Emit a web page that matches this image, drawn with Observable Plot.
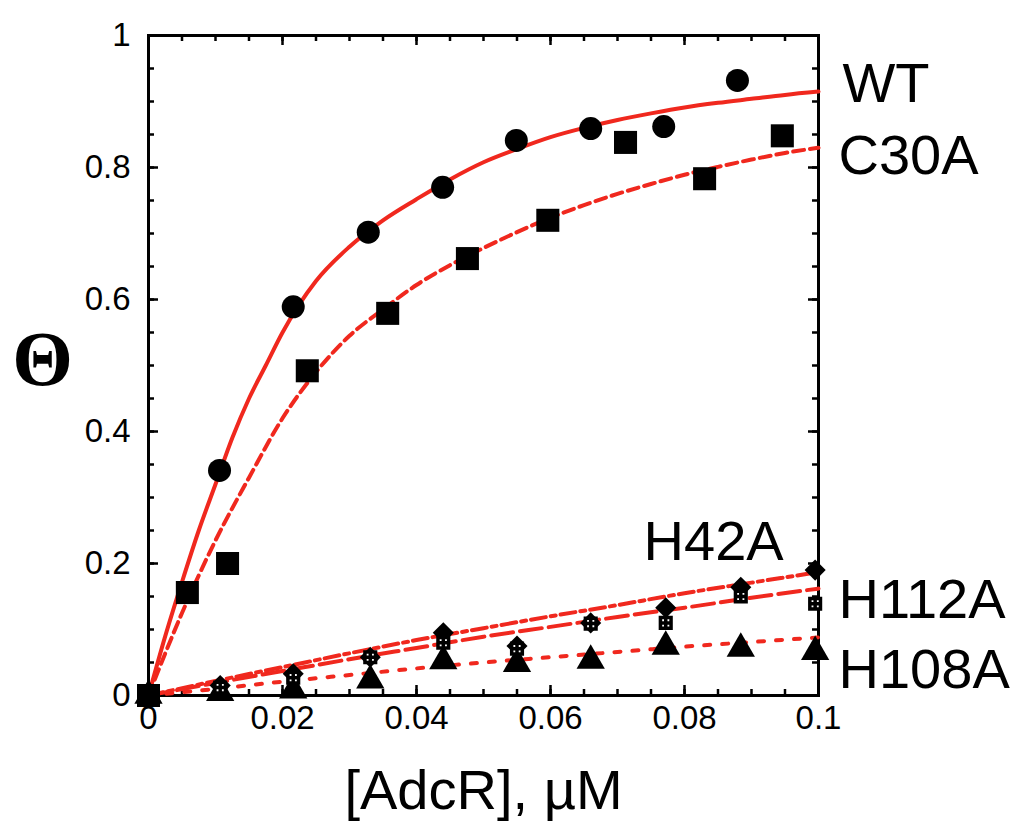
<!DOCTYPE html>
<html>
<head>
<meta charset="utf-8">
<script src="https://cdn.jsdelivr.net/npm/d3@7"></script>
<script src="https://cdn.jsdelivr.net/npm/@observablehq/plot@0.6"></script>
<style>
  html, body { margin: 0; padding: 0; background: #fff; }
  #chart { width: 1020px; height: 840px; }
</style>
</head>
<body>
<div id="chart"></div>
<script>
// Fractional saturation (Θ) of the operator DNA versus [AdcR] for wild type and mutants.

const seriesNames = ["WT", "C30A", "H42A", "H112A", "H108A"];

// Measured points
const wtX = [0, 0.0106, 0.0216, 0.0328, 0.0439, 0.0549, 0.066, 0.0769, 0.0879];
const wtY = [0, 0.341, 0.589, 0.702, 0.770, 0.841, 0.859, 0.862, 0.932];

const c30aX = [0, 0.0058, 0.0118, 0.0237, 0.0357, 0.0476, 0.0596, 0.0712, 0.083, 0.0946];
const c30aY = [0, 0.156, 0.200, 0.492, 0.579, 0.662, 0.720, 0.838, 0.783, 0.848];

const mutX = [0, 0.0107, 0.0216, 0.0331, 0.044, 0.055, 0.066, 0.0772, 0.0884, 0.0995];
const h42aY = [0, 0.015, 0.033, 0.058, 0.095, 0.075, 0.110, 0.133, 0.164, 0.190];
const h112aY = [0, 0.012, 0.027, 0.058, 0.080, 0.071, 0.109, 0.110, 0.150, 0.139];
const h108aY = [0, 0.004, 0.008, 0.023, 0.052, 0.048, 0.053, 0.074, 0.071, 0.066];

// Fitted binding curves
const fitWtX = [0, 0.0025, 0.005, 0.0075, 0.01, 0.0125, 0.015, 0.0175, 0.02, 0.025, 0.03, 0.035, 0.04, 0.045, 0.05, 0.055, 0.06, 0.065, 0.07, 0.075, 0.08, 0.085, 0.09, 0.095, 0.1];
const fitWtY = [0, 0.09, 0.172, 0.25, 0.32, 0.39, 0.45, 0.50, 0.55, 0.628, 0.68, 0.72, 0.752, 0.782, 0.808, 0.828, 0.846, 0.86, 0.872, 0.882, 0.891, 0.898, 0.904, 0.91, 0.915];

const fitC30aX = [0, 0.005, 0.01, 0.015, 0.02, 0.025, 0.03, 0.035, 0.04, 0.045, 0.05, 0.055, 0.06, 0.065, 0.07, 0.075, 0.08, 0.085, 0.09, 0.095, 0.1];
const fitC30aY = [0, 0.125, 0.235, 0.33, 0.42, 0.49, 0.545, 0.585, 0.622, 0.652, 0.678, 0.702, 0.724, 0.743, 0.76, 0.775, 0.789, 0.801, 0.812, 0.822, 0.83];

const fitMutX = [0, 0.01, 0.02, 0.03, 0.04, 0.05, 0.06, 0.07, 0.08, 0.09, 0.1];
const fitH42aY = [0, 0.022, 0.043, 0.064, 0.084, 0.102, 0.12, 0.137, 0.155, 0.171, 0.187];
const fitH112aY = [0, 0.019, 0.037, 0.055, 0.072, 0.089, 0.104, 0.119, 0.133, 0.148, 0.162];
const fitH108aY = [0, 0.010, 0.021, 0.031, 0.041, 0.050, 0.058, 0.066, 0.074, 0.081, 0.088];

// Axis ticks
const xMajor = [0, 0.02, 0.04, 0.06, 0.08, 0.1];
const xMinor = d3.range(0, 21).map(i => i * 0.005);
const yMajor = [0, 0.2, 0.4, 0.6, 0.8, 1];
const yMinor = d3.range(0, 21).map(i => i * 0.05);

const zip = (xs, ys) => xs.map((x, i) => ({x, y: ys[i]}));

const W = 1020, H = 840;
const margin = {top: 35, right: 202, bottom: 145, left: 148};
const plotW = W - margin.left - margin.right;
const plotH = H - margin.top - margin.bottom;

const red = "#f0281e";
const sans = "Liberation Sans, Arial, sans-serif";
const fmt = d => String(+d.toFixed(3));

// Square with a cross through it, used for H112A
const gridSquare = {
  draw(context, size) {
    const s = Math.sqrt(size) / 2;
    context.moveTo(-s, -s);
    context.lineTo(s, -s);
    context.lineTo(s, s);
    context.lineTo(-s, s);
    context.closePath();
    context.moveTo(0, -s);
    context.lineTo(0, s);
    context.moveTo(-s, 0);
    context.lineTo(s, 0);
  }
};

const curve = (xs, ys, dash) => Plot.line(zip(xs, ys), {
  x: "x", y: "y", stroke: red, strokeWidth: 4, curve: "monotone-x",
  strokeDasharray: dash
});

// Inward ticks on all four sides of the frame
const ticksX = (values, len) => [
  Plot.ruleX(values, {stroke: "black", strokeWidth: 2.5, insetTop: plotH - len}),
  Plot.ruleX(values, {stroke: "black", strokeWidth: 2.5, insetBottom: plotH - len})
];
const ticksY = (values, len) => [
  Plot.ruleY(values, {stroke: "black", strokeWidth: 2.5, insetRight: plotW - len}),
  Plot.ruleY(values, {stroke: "black", strokeWidth: 2.5, insetLeft: plotW - len})
];

const labelText = (name, x, y, opts) => Plot.text([name], {
  x: () => x, y: () => y, text: d => d, fontSize: 56, ...opts
});

const chart = Plot.plot({
  width: W,
  height: H,
  marginLeft: margin.left,
  marginRight: margin.right,
  marginTop: margin.top,
  marginBottom: margin.bottom,
  style: {fontFamily: sans, background: "white", color: "black", overflow: "visible"},
  x: {domain: [0, 0.1], axis: null},
  y: {domain: [0, 1], axis: null},
  marks: [
    ...ticksX(xMinor, 6),
    ...ticksX(xMajor, 10),
    ...ticksY(yMinor, 6),
    ...ticksY(yMajor, 10),
    // tick labels
    Plot.axisX({anchor: "bottom", ticks: xMajor, tickSize: 0, tickPadding: 10, tickFormat: fmt,
      fontSize: 33, label: null}),
    Plot.axisY({anchor: "left", ticks: yMajor, tickSize: 0, tickPadding: 18, tickFormat: fmt,
      fontSize: 33, label: null}),
    Plot.frame({stroke: "black", strokeWidth: 3}),

    // fitted curves
    curve(fitMutX, fitH108aY, "6,12"),
    curve(fitMutX, fitH112aY, "22,7"),
    curve(fitMutX, fitH42aY, "15,5,5,5"),
    curve(fitC30aX, fitC30aY, "11,6"),
    curve(fitWtX, fitWtY, null),

    // data points
    Plot.dot(zip(mutX, h108aY), {x: "x", y: "y", symbol: "triangle", r: 10.5, fill: "black"}),
    Plot.dot(zip(mutX, h42aY), {x: "x", y: "y", symbol: "diamond2", r: 9.5, fill: "black"}),
    Plot.dot(zip(mutX, h112aY), {x: "x", y: "y", symbol: gridSquare, r: 6, fill: "white", stroke: "black", strokeWidth: 3.5}),
    Plot.dot(zip(c30aX, c30aY), {x: "x", y: "y", symbol: "square", r: 13, fill: "black"}),
    Plot.dot(zip(wtX, wtY), {x: "x", y: "y", symbol: "circle", r: 11.5, fill: "black"}),

    // series labels
    labelText(seriesNames[0], 0.1, 0.927, {dx: 24, textAnchor: "start"}),
    labelText(seriesNames[1], 0.1, 0.817, {dx: 20, textAnchor: "start"}),
    labelText(seriesNames[2], 0.0948, 0.233, {textAnchor: "end"}),
    labelText(seriesNames[3], 0.1, 0.145, {dx: 20, textAnchor: "start"}),
    labelText(seriesNames[4], 0.1, 0.039, {dx: 20, textAnchor: "start"}),

    // axis titles
    Plot.text(["Θ"], {frameAnchor: "left", textAnchor: "middle", dx: -106, dy: -5, text: d => d, fontSize: 78,
      fontFamily: "Liberation Serif, Times New Roman, serif", fontWeight: "bold"}),
    Plot.text(["[AdcR], µM"], {frameAnchor: "bottom", dy: 113, text: d => d, fontSize: 56})
  ]
});

document.getElementById("chart").appendChild(chart);
</script>
</body>
</html>
